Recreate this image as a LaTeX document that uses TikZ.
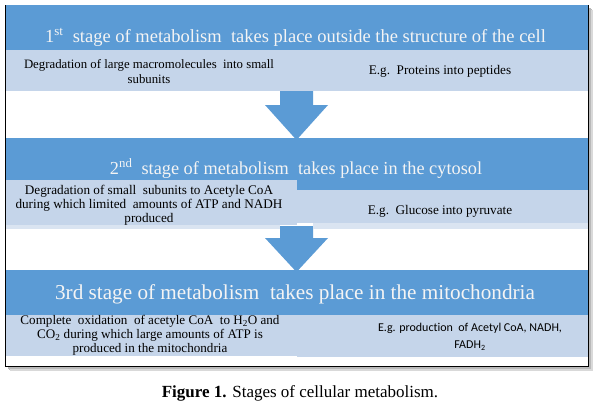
\documentclass[tikz,border=0pt]{standalone}
\usepackage{fontspec}
\setmainfont{Liberation Serif}
\newfontfamily\calib[Ligatures=NoCommon]{Carlito}
\definecolor{hdr}{RGB}{91,155,213}
\definecolor{lite}{RGB}{197,213,234}
\definecolor{lite2}{RGB}{218,228,241}
\definecolor{hdrtxt}{RGB}{244,244,244}
\begin{document}
\begin{tikzpicture}[x=1pt,y=-1pt,
  band/.style={fill=hdr},
  cell/.style={fill=lite},
  hdrtext/.style={anchor=base,text=hdrtxt,inner sep=0pt},
  celltext/.style={align=center,inner sep=0pt,text=black,font=\rmfamily\fontsize{12.8}{15}\selectfont},
  blockarrow/.style={fill=hdr}]
\useasboundingbox (0,0) rectangle (599,404);
% shadow and frame
\fill[gray!55] (9,9) rectangle (592,370);
\fill[gray!30] (10,10) rectangle (593,371);
\fill[gray!55] (8,8) rectangle (591,369);
\draw[fill=white,line width=0.9pt] (5,5) rectangle (588,366);
% arrows
\fill[blockarrow] (280,90) -- (313,90) -- (313,105) -- (328,105) -- (296.5,140) -- (265,105) -- (280,105) -- cycle;
\fill[blockarrow] (280,226) -- (313,226) -- (313,238) -- (328,238) -- (296.5,272) -- (265,238) -- (280,238) -- cycle;
% stage 1
\fill[band] (5.5,5.5) rectangle (587.5,50);
\fill[cell] (5.5,50) rectangle (293,91);
\fill[cell] (293,50) rectangle (587.5,91);
% stage 2
\fill[band] (5.5,138) rectangle (587.5,190);
\fill[cell] (5.5,180) rectangle (297,225);
\fill[lite2] (5.5,225) rectangle (280,229);
\fill[cell] (297,190) rectangle (587.5,223);
\fill[lite2] (313,223) rectangle (587.5,229);
% stage 3
\fill[band] (5.5,270) rectangle (587.5,315);
\fill[cell] (5.5,315) rectangle (297,356);
\fill[cell] (297,315) rectangle (587.5,357);
% texts
\node[hdrtext,font=\rmfamily\fontsize{18.5}{22}\selectfont] (h1) at (295.5,42) {1\textsuperscript{st}\ \ stage of metabolism\ \ takes place outside the structure of the cell};
\node[celltext] (b1l) at (149,72) {Degradation of large macromolecules\ \ into small\\subunits};
\node[celltext,font=\rmfamily\fontsize{13.2}{15}\selectfont] (b1r) at (440,71) {E.g.\ \ Proteins into peptides};
\node[hdrtext,font=\rmfamily\fontsize{18.3}{21}\selectfont] (h2) at (296,174) {2\textsuperscript{nd}\ \ stage of metabolism\ \ takes place in the cytosol};
\node[celltext,font=\rmfamily\fontsize{13.2}{13.8}\selectfont] (b2l) at (149,205) {Degradation of small\ \ subunits to Acetyle CoA\\during which limited\ \ amounts of ATP and NADH\\produced};
\node[celltext,font=\rmfamily\fontsize{13.2}{15}\selectfont] (b2r) at (440,211) {E.g.\ \ Glucose into pyruvate};
\node[hdrtext,font=\rmfamily\fontsize{21.2}{25}\selectfont] (h3) at (295,299) {3rd stage\ of metabolism\ \ takes place in the mitochondria};
\node[celltext,font=\rmfamily\fontsize{13.1}{14}\selectfont] (b3l) at (150,335) {Complete\ \ oxidation\ \ of acetyle CoA\ \ to H\textsubscript{2}O and\\CO\textsubscript{2} during which large amounts of ATP is\\produced in the mitochondria};
\node[celltext,font=\calib\fontsize{12}{17}\selectfont] (b3r) at (470,337) {E.g. production\ \ of Acetyl CoA, NADH,\\FADH\textsubscript{2}};
\node[anchor=base,inner sep=0pt,font=\rmfamily\fontsize{17}{20}\selectfont] (cap) at (300,397) {\textbf{Figure 1.} Stages of cellular metabolism.};
\end{tikzpicture}
\end{document}
